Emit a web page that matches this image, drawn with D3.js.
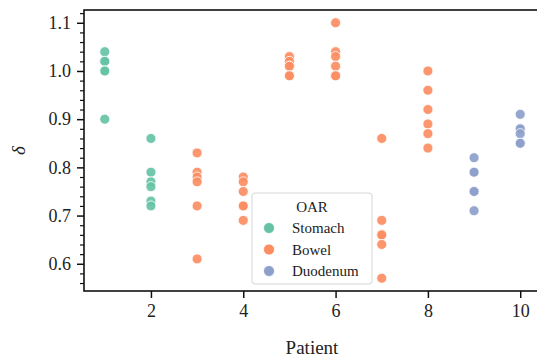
<!DOCTYPE html>
<html>
<head>
<meta charset="utf-8">
<script src="https://cdn.jsdelivr.net/npm/d3@7"></script>
<style>
  html, body { margin: 0; padding: 0; background: #fff; }
  svg { display: block; }
  text { font-family: "Liberation Serif", "DejaVu Serif", serif; fill: #222; }
</style>
</head>
<body>
<svg id="chart" width="537" height="358"></svg>
<script>
// Per-patient δ values, one array per organ at risk
const organs = ["Stomach", "Bowel", "Duodenum"];
const colors = ["#66c2a5", "#fc8d62", "#8da0cb"];

const stomachPatients = [1, 1, 1, 1, 1, 1, 2, 2, 2, 2, 2, 2];
const stomachDelta    = [1.04, 1.02, 1.02, 1.00, 1.00, 0.90, 0.86, 0.79, 0.77, 0.76, 0.73, 0.72];

const bowelPatients = [3, 3, 3, 3, 3, 3, 4, 4, 4, 4, 4, 4, 5, 5, 5, 5, 5, 5, 6, 6, 6, 6, 6, 6, 7, 7, 7, 7, 7, 7, 8, 8, 8, 8, 8, 8];
const bowelDelta    = [0.83, 0.79, 0.78, 0.77, 0.72, 0.61,
                       0.78, 0.77, 0.75, 0.72, 0.72, 0.69,
                       1.03, 1.02, 1.01, 1.01, 0.99, 0.99,
                       1.10, 1.04, 1.03, 1.01, 0.99, 0.99,
                       0.86, 0.69, 0.66, 0.66, 0.64, 0.57,
                       1.00, 0.96, 0.92, 0.89, 0.87, 0.84];

const duodenumPatients = [9, 9, 9, 9, 9, 9, 10, 10, 10, 10, 10, 10];
const duodenumDelta    = [0.82, 0.79, 0.79, 0.75, 0.75, 0.71, 0.91, 0.88, 0.88, 0.87, 0.85, 0.85];

const xTicks = [2, 4, 6, 8, 10];
const yTicks = [0.6, 0.7, 0.8, 0.9, 1.0, 1.1];

const series = [
  { name: organs[0], px: stomachPatients, dy: stomachDelta },
  { name: organs[1], px: bowelPatients, dy: bowelDelta },
  { name: organs[2], px: duodenumPatients, dy: duodenumDelta }
];

const svg = d3.select("#chart");
const plotL = 84, plotR = 541, plotT = 10, plotB = 291;

const x = d3.scaleLinear().domain([0.55, 10.45]).range([plotL, plotR]);
const y = d3.scaleLinear().domain([0.5435, 1.1265]).range([plotB, plotT]);
const color = d3.scaleOrdinal().domain(organs).range(colors);

// Points
series.forEach(s => {
  svg.append("g").selectAll("circle")
    .data(s.px.map((p, i) => ({ p, v: s.dy[i] })))
    .join("circle")
    .attr("cx", d => x(d.p))
    .attr("cy", d => y(d.v))
    .attr("r", 5)
    .attr("fill", color(s.name))
    .attr("fill-opacity", 0.92)
    .attr("stroke", "#fff")
    .attr("stroke-width", 0.8);
});

// Frame
svg.append("rect")
  .attr("x", plotL).attr("y", plotT)
  .attr("width", plotR - plotL).attr("height", plotB - plotT)
  .attr("fill", "none").attr("stroke", "#111").attr("stroke-width", 1.6);

// X axis
const xAxis = svg.append("g")
  .attr("transform", `translate(0,${plotB})`)
  .call(d3.axisBottom(x).tickValues(xTicks).tickSize(7).tickPadding(6).tickFormat(d3.format("d")));
xAxis.select(".domain").remove();
xAxis.selectAll("line").attr("stroke", "#111").attr("stroke-width", 1.5);
xAxis.selectAll("text").attr("font-size", 18).attr("fill", "#222");

// Y axis: minor ticks every 0.02
const minor = d3.range(0.56, 1.121, 0.02).filter(v => Math.abs(v * 10 - Math.round(v * 10)) > 1e-6);
const yMinor = svg.append("g")
  .attr("transform", `translate(${plotL},0)`)
  .call(d3.axisLeft(y).tickValues(minor).tickSize(4).tickFormat(""));
yMinor.select(".domain").remove();
yMinor.selectAll("line").attr("stroke", "#111").attr("stroke-width", 1.2);

const yAxis = svg.append("g")
  .attr("transform", `translate(${plotL},0)`)
  .call(d3.axisLeft(y).tickValues(yTicks).tickSize(7).tickPadding(6).tickFormat(d3.format(".1f")));
yAxis.select(".domain").remove();
yAxis.selectAll("line").attr("stroke", "#111").attr("stroke-width", 1.5);
yAxis.selectAll("text").attr("font-size", 18).attr("fill", "#222");

// Axis titles
svg.append("text")
  .attr("x", 312).attr("y", 354)
  .attr("text-anchor", "middle").attr("font-size", 19)
  .text("Patient");
svg.append("text")
  .attr("transform", `translate(25,${(plotT + plotB) / 2}) rotate(-90)`)
  .attr("text-anchor", "middle").attr("font-size", 19).attr("font-style", "italic")
  .text("δ");

// Legend
const lg = svg.append("g").attr("transform", "translate(252,193)");
lg.append("rect")
  .attr("width", 120).attr("height", 91).attr("rx", 3)
  .attr("fill", "#fff").attr("fill-opacity", 0.8)
  .attr("stroke", "#d6d6d6").attr("stroke-width", 1);
lg.append("text").attr("x", 60).attr("y", 19)
  .attr("text-anchor", "middle").attr("font-size", 15).text("OAR");
organs.forEach((o, i) => {
  const yy = 35 + i * 21.5;
  lg.append("circle").attr("cx", 17).attr("cy", yy).attr("r", 5.5)
    .attr("fill", color(o)).attr("stroke", "#fff").attr("stroke-width", 0.8);
  lg.append("text").attr("x", 40).attr("y", yy + 5)
    .attr("font-size", 15).text(o);
});
</script>
</body>
</html>
